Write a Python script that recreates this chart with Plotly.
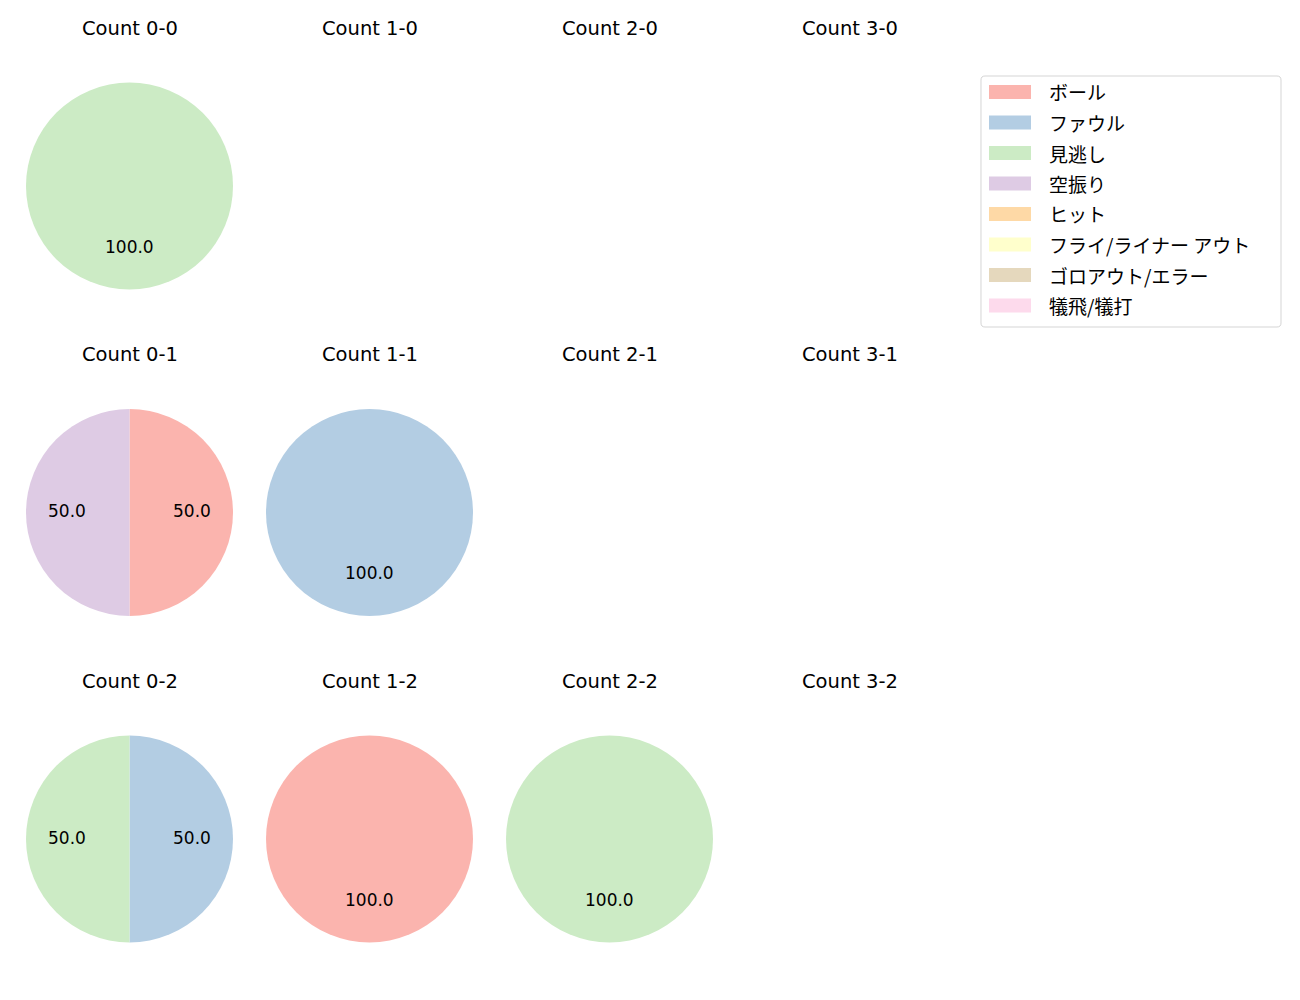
import math
import re
import plotly.graph_objects as go

# ---- data ----
categories = ["ボール", "ファウル", "見逃し", "空振り", "ヒット",
              "フライ/ライナー アウト", "ゴロアウト/エラー", "犠飛/犠打"]
colors = ["#fbb4ae", "#b3cde3", "#ccebc5", "#decbe4", "#fed9a6",
          "#ffffcc", "#e5d8bd", "#fddaec"]
count_labels = ["0-0", "1-0", "2-0", "3-0",
                "0-1", "1-1", "2-1", "3-1",
                "0-2", "1-2", "2-2", "3-2"]
# counts per pitch-result category for each ball-strike count (order = categories)
v_0_0 = [0, 0, 1, 0, 0, 0, 0, 0]
v_1_0 = [0, 0, 0, 0, 0, 0, 0, 0]
v_2_0 = [0, 0, 0, 0, 0, 0, 0, 0]
v_3_0 = [0, 0, 0, 0, 0, 0, 0, 0]
v_0_1 = [1, 0, 0, 1, 0, 0, 0, 0]
v_1_1 = [0, 1, 0, 0, 0, 0, 0, 0]
v_2_1 = [0, 0, 0, 0, 0, 0, 0, 0]
v_3_1 = [0, 0, 0, 0, 0, 0, 0, 0]
v_0_2 = [0, 1, 1, 0, 0, 0, 0, 0]
v_1_2 = [1, 0, 0, 0, 0, 0, 0, 0]
v_2_2 = [0, 0, 1, 0, 0, 0, 0, 0]
v_3_2 = [0, 0, 0, 0, 0, 0, 0, 0]
values = [v_0_0, v_1_0, v_2_0, v_3_0, v_0_1, v_1_1, v_2_1, v_3_1,
          v_0_2, v_1_2, v_2_2, v_3_2]

# ---- layout geometry (pixels) ----
W, H = 1300, 1000
col_cx = [129.5, 369.5, 609.5, 849.5]
row_cy = [186, 512.5, 839]
R = 103.5
title_dy = 158  # title above centre
FONT = "DejaVu Sans, Noto Sans CJK JP"
JFONT = "Noto Sans CJK JP"


def px2paper(x, y):
    return x / W, 1 - y / H


fig = go.Figure()
annotations = []
shapes = []
for i, (lab, vals) in enumerate(zip(count_labels, values)):
    r, c = divmod(i, 4)
    cx, cy = col_cx[c], row_cy[r]
    tx, ty = px2paper(cx, cy - title_dy)
    annotations.append(dict(x=tx, y=ty, xref="paper", yref="paper",
                            xanchor="center", yanchor="middle",
                            text="Count " + lab, showarrow=False,
                            font=dict(family=FONT, size=19.5, color="#000")))
    total = sum(vals)
    if total == 0:
        continue
    fig.add_trace(go.Pie(
        labels=categories, values=vals, sort=False, direction="clockwise", rotation=0,
        marker=dict(colors=colors, line=dict(width=0)),
        textinfo="none", hoverinfo="label+percent",
        domain=dict(x=[(cx - R) / W, (cx + R) / W], y=[1 - (cy + R) / H, 1 - (cy - R) / H]),
        showlegend=False,
    ))
    cum = 0
    for v in vals:
        if v > 0:
            ang = math.radians(90 - 360 * (cum + v / 2) / total)
            lx, ly = px2paper(cx + 0.6 * R * math.cos(ang), cy - 0.6 * R * math.sin(ang) - 1.5)
            annotations.append(dict(x=lx, y=ly, xref="paper", yref="paper",
                                    xanchor="center", yanchor="middle",
                                    text=f"{100 * v / total:.1f}", showarrow=False,
                                    font=dict(family=FONT, size=17, color="#000")))
        cum += v

# ---- legend (drawn as in the reference: wide colour patches in a rounded frame) ----
L, T, Rr, B = 981, 76, 1281, 327
rad = 4
path = (f"M {L+rad} {T} L {Rr-rad} {T} Q {Rr} {T} {Rr} {T+rad} L {Rr} {B-rad} "
        f"Q {Rr} {B} {Rr-rad} {B} L {L+rad} {B} Q {L} {B} {L} {B-rad} "
        f"L {L} {T+rad} Q {L} {T} {L+rad} {T} Z")
conv = []
toggle = 0
for tok in re.split(r"\s+", path):
    if re.match(r"^[A-Z]$", tok):
        conv.append(tok)
        toggle = 0
    else:
        val = float(tok)
        conv.append(f"{val / W:.6f}" if toggle == 0 else f"{1 - val / H:.6f}")
        toggle ^= 1
shapes.append(dict(type="path", xref="paper", yref="paper", path=" ".join(conv),
                   line=dict(color="#d5d5d5", width=1), fillcolor="rgba(255,255,255,0.8)"))
row0, step = 92, 30.5
for k, (name, col) in enumerate(zip(categories, colors)):
    yc = row0 + k * step
    x0, y0 = px2paper(989, yc - 7)
    x1, y1 = px2paper(1031, yc + 7)
    shapes.append(dict(type="rect", xref="paper", yref="paper", x0=x0, x1=x1, y0=y1, y1=y0,
                       line=dict(width=0), fillcolor=col))
    ax, ay = px2paper(1047, yc)
    annotations.append(dict(x=ax, y=ay, xref="paper", yref="paper",
                            xanchor="left", yanchor="middle", text=name, showarrow=False,
                            font=dict(family=JFONT, size=19, color="#000")))

fig.update_layout(
    width=W, height=H, margin=dict(l=0, r=0, t=0, b=0),
    paper_bgcolor="white", plot_bgcolor="white",
    annotations=annotations, shapes=shapes, showlegend=False,
)
fig.write_html("out.html")
